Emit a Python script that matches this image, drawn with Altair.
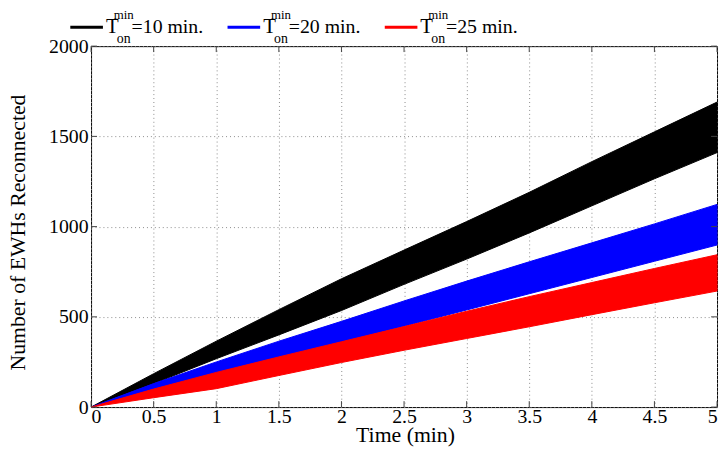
import altair as alt
import pandas as pd

# ---- data ----
times = [0, 0.5, 1, 1.5, 2, 2.5, 3, 3.5, 4, 4.5, 5]
black_hi = [0, 185, 365, 540, 711, 870, 1028, 1190, 1360, 1525, 1690]
black_lo = [0, 130, 268, 400, 535, 680, 820, 965, 1115, 1265, 1410]
blue_hi = [0, 130, 250, 365, 475, 588, 698, 805, 910, 1015, 1123]
blue_lo = [0, 88, 178, 268, 358, 448, 538, 628, 718, 808, 898]
red_hi = [0, 100, 192, 278, 362, 446, 531, 612, 690, 768, 844]
red_lo = [0, 52, 102, 175, 247, 315, 380, 445, 512, 578, 643]

x_ticks = [0, 0.5, 1, 1.5, 2, 2.5, 3, 3.5, 4, 4.5, 5]
y_ticks = [0, 500, 1000, 1500, 2000]
legend_labels = ["=10 min.", "=20 min.", "=25 min."]
series_colors = ["#000000", "#0000ff", "#ff0000"]

W, H = 633, 365
FONT = "Liberation Serif, Times New Roman, DejaVu Serif, serif"

xs = alt.Scale(domain=[0, 5], nice=False, zero=False)
ys = alt.Scale(domain=[0, 2000], nice=False)

x_axis = alt.Axis(values=x_ticks, format="~g", title="Time (min)",
                  labelFont=FONT, labelFontSize=20, labelColor="black",
                  labelPadding=0, labelBaseline="top",
                  titleFont=FONT, titleFontSize=22, titleFontWeight="normal",
                  titleColor="black",
                  titleX=W / 2 + 1, titleY=35, titleBaseline="alphabetic", titleAlign="center")
y_axis = alt.Axis(values=y_ticks, format="d", title="Number of EWHs Reconnected",
                  labelFont=FONT, labelFontSize=20, labelColor="black", labelPadding=3,
                  titleFont=FONT, titleFontSize=22, titleFontWeight="normal",
                  titleColor="black",
                  titleX=-67, titleY=188, titleBaseline="alphabetic", titleAlign="center",
                  titleAngle=270)


def band(lo, hi, color):
    df = pd.DataFrame({"t": times, "lo": lo, "hi": hi})
    return alt.Chart(df).mark_area(color=color, opacity=1, stroke=color, strokeWidth=1).encode(
        x=alt.X("t:Q", scale=xs, axis=x_axis),
        y=alt.Y("lo:Q", scale=ys, axis=y_axis),
        y2="hi:Q",
    )


layers = [
    band(black_lo, black_hi, series_colors[0]),
    band(blue_lo, blue_hi, series_colors[1]),
    band(red_lo, red_hi, series_colors[2]),
]

# inward ticks (MATLAB style box)
xt = pd.DataFrame({"t": x_ticks})
yt = pd.DataFrame({"lo": y_ticks})
TICK = 6
tick_color = "#444444"
layers.append(alt.Chart(xt).mark_rule(color=tick_color).encode(
    x=alt.X("t:Q", scale=xs, axis=x_axis), y=alt.value(H), y2=alt.value(H - TICK)))
layers.append(alt.Chart(xt).mark_rule(color=tick_color).encode(
    x=alt.X("t:Q", scale=xs, axis=x_axis), y=alt.value(0), y2=alt.value(TICK)))
layers.append(alt.Chart(yt).mark_rule(color=tick_color).encode(
    y=alt.Y("lo:Q", scale=ys, axis=y_axis), x=alt.value(0), x2=alt.value(TICK)))
layers.append(alt.Chart(yt).mark_rule(color=tick_color).encode(
    y=alt.Y("lo:Q", scale=ys, axis=y_axis), x=alt.value(W), x2=alt.value(W - TICK)))

# custom legend with sub/superscripts
offsets = [-21, 138, 297]
for lab, col, ox in zip(legend_labels, series_colors, offsets):
    one = pd.DataFrame({"label": [lab]})
    layers.append(alt.Chart(one).mark_rule(color=col, strokeWidth=3).encode(
        x=alt.value(ox), x2=alt.value(ox + 33), y=alt.value(-19)))
    layers.append(alt.Chart(one).mark_text(font=FONT, fontSize=21, align="left",
                                           baseline="alphabetic", color="black").encode(
        x=alt.value(ox + 36), y=alt.value(-13), text=alt.value("T")))
    layers.append(alt.Chart(one).mark_text(font=FONT, fontSize=13, align="left",
                                           baseline="alphabetic", color="black").encode(
        x=alt.value(ox + 44), y=alt.value(-27), text=alt.value("min")))
    layers.append(alt.Chart(one).mark_text(font=FONT, fontSize=14, align="left",
                                           baseline="alphabetic", color="black").encode(
        x=alt.value(ox + 47), y=alt.value(-3), text=alt.value("on")))
    layers.append(alt.Chart(one).mark_text(font=FONT, fontSize=20, align="left",
                                           baseline="alphabetic", color="black").encode(
        x=alt.value(ox + 62), y=alt.value(-13), text="label:N"))

chart = alt.layer(*layers).properties(
    width=W, height=H,
    autosize=alt.AutoSizeParams(type="none"),
    padding={"left": 84, "top": 36, "right": 3, "bottom": 56},
).configure(
    font=FONT
).configure_view(
    stroke="#000000", strokeWidth=1
).configure_axis(
    domain=False, ticks=False, grid=True,
    gridColor="#8c8c8c", gridDash=[1, 3], gridWidth=1, gridOpacity=1,
)

chart.save("out.html", embed_options={"renderer": "svg", "actions": False})
